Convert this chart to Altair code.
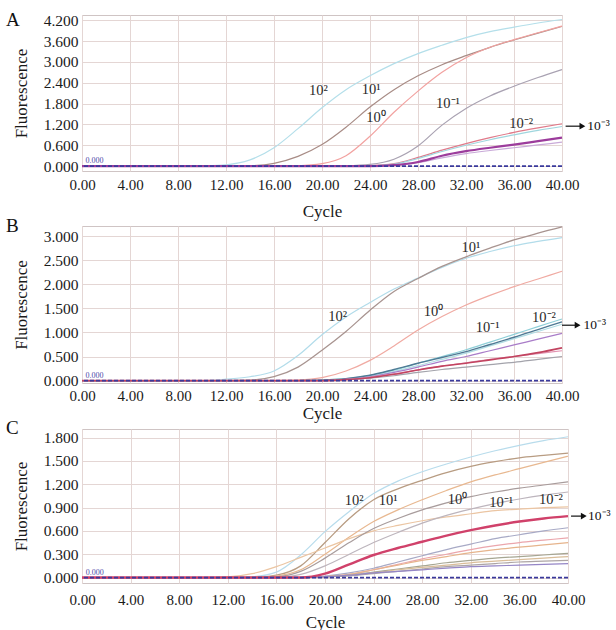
import altair as alt
import pandas as pd

FONT = "Liberation Serif"

cycles = [0, 2, 4, 6, 8, 10, 12, 14, 16, 18, 20, 22, 24, 26, 28, 30, 32, 34, 36, 38, 40]
x_ticks = [0, 4, 8, 12, 16, 20, 24, 28, 32, 36, 40]

# ---------------- Panel A ----------------
A_1e2 = [0, 0, 0, 0, 0, 0.01, 0.04, 0.18, 0.53, 1.08, 1.68, 2.2, 2.6, 2.95, 3.24, 3.48, 3.7, 3.87, 4.0, 4.12, 4.22]
A_1e1 = [0, 0, 0, 0, 0, 0, 0, 0.01, 0.08, 0.28, 0.62, 1.12, 1.7, 2.2, 2.6, 2.92, 3.18, 3.42, 3.63, 3.83, 4.02]
A_1e0 = [0, 0, 0, 0, 0, 0, 0, 0, 0, 0.01, 0.07, 0.3, 0.86, 1.55, 2.16, 2.7, 3.12, 3.42, 3.64, 3.84, 4.03]
A_1em1 = [0, 0, 0, 0, 0, 0, 0, 0, 0, 0, 0, 0.01, 0.05, 0.2, 0.58, 1.18, 1.66, 2.02, 2.3, 2.55, 2.78]
A_1em2 = [0, 0, 0, 0, 0, 0, 0, 0, 0, 0, 0, 0, 0.01, 0.07, 0.25, 0.46, 0.65, 0.82, 0.97, 1.1, 1.22]
A_cyan = [0, 0, 0, 0, 0, 0, 0, 0, 0, 0, 0, 0, 0.01, 0.06, 0.22, 0.42, 0.6, 0.76, 0.9, 1.03, 1.14]
A_lav = [0, 0, 0, 0, 0, 0, 0, 0, 0, 0, 0, 0, 0, 0.02, 0.1, 0.24, 0.36, 0.45, 0.53, 0.61, 0.69]
A_purple = [0, 0, 0, 0, 0, 0, 0, 0, 0, 0, 0, 0, 0, 0.03, 0.12, 0.3, 0.43, 0.53, 0.62, 0.72, 0.82]
A_colors = ["#b4dfea", "#a88c86", "#f2a2a0", "#a9a2b2", "#e07a8a", "#9fd6de", "#c9aad8", "#9c3c9c"]
A_widths = [1.2, 1.2, 1.2, 1.2, 1.2, 1.2, 1.2, 2.2]
A_lbl_text = ["10²", "10¹", "10⁰", "10⁻¹", "10⁻²"]
A_lbl_x = [19.7, 24.1, 24.5, 30.5, 36.6]
A_lbl_y = [2.16, 2.19, 1.38, 1.79, 1.21]

# ---------------- Panel B ----------------
B_blue = [0, 0, 0, 0, 0, 0, 0.03, 0.08, 0.2, 0.52, 0.95, 1.32, 1.62, 1.9, 2.13, 2.35, 2.54, 2.68, 2.8, 2.89, 2.97]
B_gray = [0, 0, 0, 0, 0, 0, 0, 0.01, 0.08, 0.28, 0.63, 1.02, 1.46, 1.85, 2.12, 2.37, 2.57, 2.75, 2.92, 3.06, 3.19]
B_1e0 = [0, 0, 0, 0, 0, 0, 0, 0, 0, 0.01, 0.06, 0.2, 0.42, 0.72, 1.05, 1.33, 1.57, 1.77, 1.95, 2.11, 2.27]
B_cyan2 = [0, 0, 0, 0, 0, 0, 0, 0, 0, 0, 0, 0.03, 0.09, 0.19, 0.31, 0.44, 0.57, 0.72, 0.87, 1.02, 1.17]
B_cyan = [0, 0, 0, 0, 0, 0, 0, 0, 0, 0, 0.01, 0.04, 0.11, 0.22, 0.36, 0.5, 0.64, 0.8, 0.96, 1.12, 1.28]
B_teal = [0, 0, 0, 0, 0, 0, 0, 0, 0, 0, 0.01, 0.04, 0.11, 0.23, 0.36, 0.48, 0.6, 0.75, 0.9, 1.06, 1.22]
B_purple = [0, 0, 0, 0, 0, 0, 0, 0, 0, 0, 0, 0.03, 0.08, 0.17, 0.28, 0.4, 0.5, 0.62, 0.74, 0.86, 0.98]
B_pink = [0, 0, 0, 0, 0, 0, 0, 0, 0, 0, 0, 0.02, 0.07, 0.14, 0.22, 0.3, 0.37, 0.44, 0.5, 0.56, 0.62]
B_gray2 = [0, 0, 0, 0, 0, 0, 0, 0, 0, 0, 0, 0.02, 0.05, 0.1, 0.17, 0.23, 0.28, 0.33, 0.38, 0.44, 0.5]
B_red = [0, 0, 0, 0, 0, 0, 0, 0, 0, 0, 0, 0.02, 0.06, 0.13, 0.22, 0.3, 0.36, 0.43, 0.5, 0.58, 0.68]
B_colors = ["#b2dcea", "#a89490", "#f0aaa2", "#b0dde4", "#8fcfd8", "#4f7a94", "#a97cc8", "#e294b2", "#a3a3ab", "#c24460"]
B_widths = [1.2, 1.3, 1.2, 1.2, 1.2, 1.4, 1.2, 1.2, 1.2, 1.6]
B_lbl_text = ["10¹", "10²", "10⁰", "10⁻¹", "10⁻²"]
B_lbl_x = [32.4, 21.3, 29.3, 33.8, 38.5]
B_lbl_y = [2.75, 1.32, 1.42, 1.09, 1.3]

# ---------------- Panel C ----------------
C_blue = [0, 0, 0, 0, 0, 0, 0, 0.01, 0.07, 0.29, 0.59, 0.85, 1.08, 1.24, 1.36, 1.46, 1.55, 1.63, 1.7, 1.76, 1.81]
C_tan = [0, 0, 0, 0, 0, 0, 0, 0, 0.03, 0.15, 0.45, 0.76, 1.0, 1.14, 1.25, 1.35, 1.43, 1.49, 1.54, 1.57, 1.6]
C_orange = [0, 0, 0, 0, 0, 0, 0, 0, 0.02, 0.1, 0.3, 0.52, 0.72, 0.87, 1.0, 1.12, 1.23, 1.32, 1.4, 1.48, 1.56]
C_orange2 = [0, 0, 0, 0, 0, 0, 0.01, 0.05, 0.14, 0.26, 0.38, 0.5, 0.6, 0.67, 0.73, 0.78, 0.82, 0.86, 0.88, 0.9, 0.91]
C_gray = [0, 0, 0, 0, 0, 0, 0, 0, 0.01, 0.08, 0.25, 0.45, 0.63, 0.76, 0.87, 0.96, 1.04, 1.1, 1.15, 1.19, 1.23]
C_gray2 = [0, 0, 0, 0, 0, 0, 0, 0, 0, 0.04, 0.15, 0.3, 0.45, 0.58, 0.7, 0.8, 0.88, 0.95, 1.01, 1.06, 1.1]
C_graybl = [0, 0, 0, 0, 0, 0, 0, 0, 0, 0, 0.02, 0.06, 0.12, 0.2, 0.28, 0.36, 0.43, 0.5, 0.55, 0.6, 0.64]
C_pink = [0, 0, 0, 0, 0, 0, 0, 0, 0, 0, 0.01, 0.04, 0.1, 0.17, 0.24, 0.3, 0.36, 0.41, 0.45, 0.48, 0.51]
C_orange3 = [0, 0, 0, 0, 0, 0, 0, 0, 0, 0, 0.01, 0.04, 0.1, 0.16, 0.22, 0.27, 0.32, 0.36, 0.39, 0.42, 0.45]
C_olive = [0, 0, 0, 0, 0, 0, 0, 0, 0, 0, 0.01, 0.03, 0.07, 0.11, 0.15, 0.19, 0.22, 0.25, 0.27, 0.29, 0.31]
C_tan2 = [0, 0, 0, 0, 0, 0, 0, 0, 0, 0, 0.01, 0.03, 0.06, 0.1, 0.13, 0.16, 0.19, 0.21, 0.23, 0.25, 0.27]
C_gray3 = [0, 0, 0, 0, 0, 0, 0, 0, 0, 0, 0.01, 0.02, 0.05, 0.08, 0.11, 0.14, 0.16, 0.18, 0.2, 0.21, 0.22]
C_purple = [0, 0, 0, 0, 0, 0, 0, 0, 0, 0, 0.01, 0.03, 0.06, 0.08, 0.1, 0.12, 0.14, 0.15, 0.16, 0.17, 0.18]
C_red = [0, 0, 0, 0, 0, 0, 0, 0, 0, 0, 0.05, 0.17, 0.29, 0.38, 0.46, 0.54, 0.61, 0.67, 0.72, 0.76, 0.79]
C_colors = ["#b8dcec", "#b89c82", "#e8b890", "#ebc5a2", "#a89c9c", "#bdb5bd", "#a8aac6", "#eba6ac",
            "#e6b48c", "#a6a692", "#d9bd99", "#ada5a5", "#9586c6", "#d0416a"]
C_widths = [1.2, 1.3, 1.2, 1.2, 1.2, 1.2, 1.2, 1.2, 1.2, 1.2, 1.2, 1.2, 1.2, 2.4]
C_lbl_text = ["10²", "10¹", "10⁰", "10⁻¹", "10⁻²"]
C_lbl_x = [22.4, 25.2, 30.9, 34.5, 38.6]
C_lbl_y = [0.98, 0.98, 1.0, 0.96, 1.0]

A_yticks = [0.0, 0.6, 1.2, 1.8, 2.4, 3.0, 3.6, 4.2]
B_yticks = [0.0, 0.5, 1.0, 1.5, 2.0, 2.5, 3.0]
C_yticks = [0.0, 0.3, 0.6, 0.9, 1.2, 1.5, 1.8]

arrow_text = "10⁻³"
threshold_value = 0.0
threshold_text = "0.000"


def panel(series, colors, widths, ydom, yticks, height, width,
          lbl_text, lbl_x, lbl_y, arrow, letter, letter_y, title_y, label_pad):
    rows = []
    for i, (vals, col, w) in enumerate(zip(series, colors, widths)):
        for c, v in zip(cycles, vals):
            rows.append({"series": i, "col": col, "cycle": c, "F": v, "w": w})
    df = pd.DataFrame(rows)
    xs = alt.Scale(domain=[0, 40], nice=False, zero=False)
    ys = alt.Scale(domain=ydom, nice=False, zero=False)
    common = dict(tickSize=0, ticks=False, labelFlush=False, labelOverlap=False, domain=False,
                  labelFont=FONT, titleFont=FONT, titleFontWeight="normal",
                  labelColor="#1a1a1a", titleColor="#1a1a1a", gridColor="#e4d6d4", titleFontSize=17)
    xaxis = alt.Axis(values=x_ticks, format=".2f", title="Cycle", titleY=title_y,
                     titleBaseline="middle", labelPadding=label_pad, labelBaseline="middle",
                     labelFontSize=15, **common)
    yaxis = alt.Axis(values=yticks, format=".3f", title="Fluorescence", titleX=-61,
                     titleBaseline="middle", labelPadding=4, labelFontSize=15.5, **common)
    X = alt.X("cycle:Q", scale=xs, axis=xaxis)
    Y = alt.Y("F:Q", scale=ys, axis=yaxis)
    lines = alt.Chart(df).mark_line(interpolate="monotone").encode(
        x=X, y=Y,
        detail="series:N",
        color=alt.Color("col:N", scale=None, legend=None),
        strokeWidth=alt.StrokeWidth("w:Q", scale=None, legend=None),
        order=alt.Order("cycle:Q"),
    )
    thr = alt.Chart(pd.DataFrame({"F": [threshold_value]})).mark_rule(
        color="#3a3a9c", strokeDash=[4, 2], strokeWidth=1.8).encode(y=Y)
    thr_lbl = alt.Chart(pd.DataFrame({"cycle": [0.3], "F": [threshold_value], "t": [threshold_text]})).mark_text(
        font=FONT, fontSize=8, color="#4a4aa8", align="left", baseline="bottom", dy=-1
    ).encode(x=X, y=Y, text="t:N")
    lbl = alt.Chart(pd.DataFrame({"cycle": lbl_x, "F": lbl_y, "t": lbl_text})).mark_text(
        font=FONT, fontSize=14.5, color="#2a2a2a", align="center", baseline="middle"
    ).encode(x=X, y=Y, text="t:N")
    ax1, ax2, tx, ay = arrow
    arr = alt.Chart(pd.DataFrame({"cycle": [ax1], "cycle2": [ax2], "F": [ay]})).mark_rule(
        color="#111", strokeWidth=1.2).encode(x=X, x2="cycle2:Q", y=Y)
    head = alt.Chart(pd.DataFrame({"cycle": [ax2], "F": [ay]})).mark_point(
        shape="triangle-right", filled=True, size=45, color="#111", opacity=1).encode(x=X, y=Y)
    atxt = alt.Chart(pd.DataFrame({"cycle": [tx], "F": [ay], "t": [arrow_text]})).mark_text(
        font=FONT, fontSize=13.5, color="#111", align="left", baseline="middle").encode(
        x=X, y=Y, text="t:N")
    let = alt.Chart(pd.DataFrame({"t": [letter]})).mark_text(
        font=FONT, fontSize=19, color="#111", align="left", baseline="middle").encode(
        x=alt.value(-76), y=alt.value(letter_y), text="t:N")
    return alt.layer(lines, thr, thr_lbl, lbl, arr, head, atxt, let).properties(width=width, height=height)


pA = panel([A_1e2, A_1e1, A_1e0, A_1em1, A_1em2, A_cyan, A_lav, A_purple], A_colors, A_widths,
           [-0.14, 4.35], A_yticks, 156, 480, A_lbl_text, A_lbl_x, A_lbl_y,
           (40.3, 41.7, 42.1, 1.15), "A", 5, 40, 13)
pB = panel([B_blue, B_gray, B_1e0, B_cyan2, B_cyan, B_teal, B_purple, B_pink, B_gray2, B_red], B_colors, B_widths,
           [-0.05, 3.21], B_yticks, 157, 480, B_lbl_text, B_lbl_x, B_lbl_y,
           (40.0, 41.3, 41.8, 1.15), "B", 0, 30, 12)
pC = panel([C_blue, C_tan, C_orange, C_orange2, C_gray, C_gray2, C_graybl, C_pink, C_orange3, C_olive,
            C_tan2, C_gray3, C_purple, C_red], C_colors, C_widths,
           [-0.07, 1.91], C_yticks, 154, 486, C_lbl_text, C_lbl_x, C_lbl_y,
           (40.25, 41.3, 41.65, 0.79), "C", -1, 39, 16)

chart = alt.vconcat(pA, pB, pC, spacing=-4).properties(
    padding={"left": 5, "top": 10, "right": 0, "bottom": 0},
    background="white"
).configure_view(stroke="#cfc4c4", strokeWidth=1)

chart.save("out.html", embed_options={"renderer": "svg", "actions": False})
